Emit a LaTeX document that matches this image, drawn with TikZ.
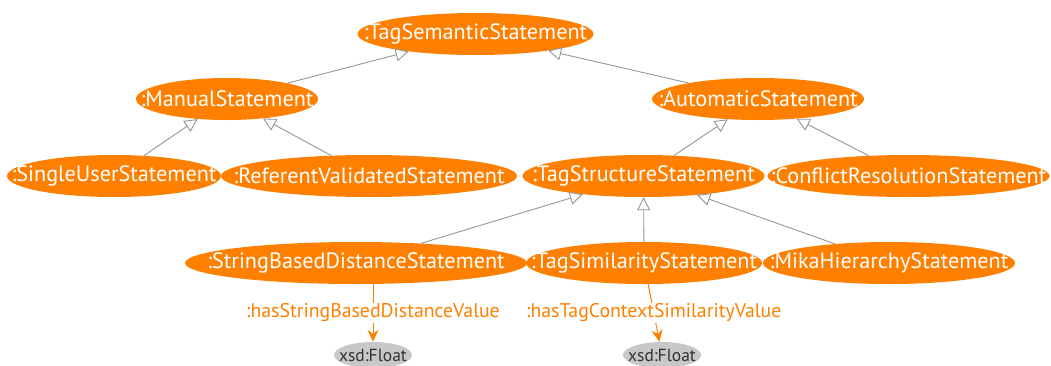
\documentclass[tikz,border=0pt]{standalone}
\usepackage{fontspec}
\setmainfont{PT Sans}
\usetikzlibrary{shapes.geometric,arrows.meta}
\definecolor{org}{RGB}{255,128,0}
\definecolor{edgegray}{RGB}{150,150,150}
\definecolor{dtgray}{RGB}{200,200,200}
\definecolor{dttext}{RGB}{50,50,50}
\newcommand{\zw}[1]{\makebox[0pt]{#1}}
\tikzset{
  cls/.style={ellipse, fill=org, inner sep=0pt, minimum height=42pt, text=white,
    font=\fontsize{22.2}{26}\selectfont},
  dt/.style={ellipse, fill=dtgray, inner sep=0pt, minimum height=26pt, minimum width=78pt,
    text=dttext, font=\fontsize{17.5}{20}\selectfont},
  sub/.style={draw=edgegray, line width=0.9pt, -{Triangle[open, length=13pt, width=13pt, fill=white]}},
  prop/.style={draw=org, line width=1pt, -{Stealth[length=12pt, width=11pt, inset=4pt]}},
  plabel/.style={fill=white, text=org, inner sep=1pt, font=\fontsize{19.8}{22}\selectfont}
}
\begin{document}
\begin{tikzpicture}[x=1pt, y=-1pt]
\useasboundingbox (0,0) rectangle (1051,365);
\node[cls, minimum width=236pt] (tss) at (475.5,34) {\zw{:TagSemanticStatement}};
\node[cls, minimum width=182pt] (man) at (227,99) {\zw{:ManualStatement}};
\node[cls, minimum width=212pt] (aut) at (758,99) {\zw{:AutomaticStatement}};
\node[cls, minimum width=214pt] (sus) at (114,176) {\zw{:SingleUserStatement}};
\node[cls, minimum width=296pt] (rvs) at (369,176) {\zw{:ReferentValidatedStatement}};
\node[cls, minimum width=242pt] (tst) at (643.5,176) {\zw{:TagStructureStatement}};
\node[cls, minimum width=282pt] (crs) at (908.5,176) {\zw{:ConflictResolutionStatement}};
\node[cls, minimum width=342pt] (sbd) at (356,263) {\zw{:StringBasedDistanceStatement}};
\node[cls, minimum width=236pt] (tsim) at (644,263) {\zw{:TagSimilarityStatement}};
\node[cls, minimum width=252pt] (mika) at (889,263) {\zw{:MikaHierarchyStatement}};
\node[dt] (f1) at (373,355) {\zw{xsd:Float}};
\node[dt] (f2) at (662,355) {\zw{xsd:Float}};

\draw[sub] (man) -- (tss);
\draw[sub] (aut) -- (tss);
\draw[sub] (sus) -- (man);
\draw[sub] (rvs) -- (man);
\draw[sub] (tst) -- (aut);
\draw[sub] (crs) -- (aut);
\draw[sub] (sbd) -- (tst);
\draw[sub] (tsim) -- (tst);
\draw[sub] (mika) -- (tst);

\draw[prop] (f1 |- sbd.south) -- node[plabel] {:hasStringBasedDistanceValue} (f1);
\draw[prop] (tsim) -- node[plabel] {:hasTagContextSimilarityValue} (f2);
\end{tikzpicture}
\end{document}
